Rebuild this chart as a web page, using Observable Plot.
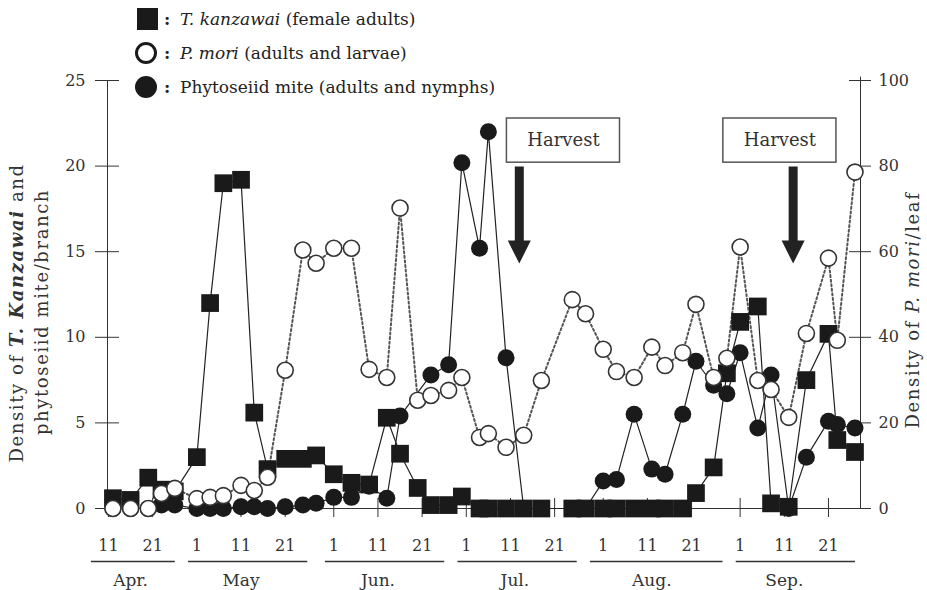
<!DOCTYPE html>
<html>
<head>
<meta charset="utf-8">
<script src="https://cdn.jsdelivr.net/npm/d3@7"></script>
<script src="https://cdn.jsdelivr.net/npm/@observablehq/plot@0.6"></script>
<style>
  html, body { margin: 0; padding: 0; background: #fff; }
  #chart { width: 927px; height: 590px; }
</style>
</head>
<body>
<div id="chart"></div>
<script>
// ---------- data (sampling dates, month-day) ----------
const dates = ["04-12","04-16","04-20","04-23","04-26",
  "05-01","05-04","05-07","05-11","05-14","05-17","05-21","05-25","05-28",
  "06-01","06-05","06-09","06-13","06-16","06-20","06-23","06-27","06-30",
  "07-04","07-06","07-10","07-14","07-18","07-25","07-28",
  "08-01","08-04","08-08","08-12","08-15","08-19","08-22","08-26","08-29",
  "09-01","09-05","09-08","09-12","09-16","09-21","09-23","09-27"];

// T. kanzawai (female adults) per branch - left axis
const kanzawai = [0.6,0.5,1.8,1.1,1.0,
  3.0,12.0,19.0,19.2,5.6,2.3,2.9,2.9,3.1,
  2.0,1.5,1.4,5.3,3.2,1.2,0.2,0.2,0.7,
  0,0,0,0,0,0,0,
  0,0,0,0,0,0,0.9,2.4,7.9,
  10.9,11.8,0.3,0.1,7.5,10.2,4.0,3.3];

// P. mori (adults and larvae) per leaf - right axis
const mori = [0,0,0,3.5,4.7,
  2.3,2.6,3.0,5.4,4.2,7.3,32.3,60.4,57.3,
  60.8,60.8,32.5,30.6,70.2,25.3,26.4,27.6,30.6,
  16.6,17.5,14.3,17.1,29.9,48.8,45.5,
  37.2,32.0,30.6,37.7,33.4,36.4,47.7,30.6,35.1,
  61.1,29.9,27.8,21.3,40.9,58.5,39.3,78.6];

// Phytoseiid mite (adults and nymphs) per branch - left axis
const phytoseiid = [0,0,0,0.2,0.2,
  0,0,0,0.1,0.1,0,0.1,0.2,0.3,
  0.65,0.65,1.3,0.6,5.4,null,7.8,8.4,20.2,
  15.2,22.0,8.8,0,0,0,0,
  1.6,1.7,5.5,2.3,2.0,5.5,8.6,7.2,6.7,
  9.1,4.7,7.8,0,3.0,5.1,4.9,4.7];

// axis ticks
const xTickDates = ["04-11","04-21","05-01","05-11","05-21","06-01","06-11","06-21",
  "07-01","07-11","07-21","08-01","08-11","08-21","09-01","09-11","09-21"];
const leftTicks = [0,5,10,15,20,25];
const rightTicks = [0,20,40,60,80,100];

// month labels and their underlines
const monthNames = ["Apr.","May","Jun.","Jul.","Aug.","Sep."];
const monthLineStart = ["04-07","04-29","05-30","06-29","07-29","08-31"];
const monthLineEnd   = ["04-26","05-26","06-26","07-26","08-28","09-27"];
const monthLabelAt   = ["04-16","05-11","06-11","07-12","08-12","09-11"];

// harvest annotations
const harvestArrow = ["07-13","09-13"];
const harvestBox   = ["07-23","09-10"];
const harvestText  = ["Harvest","Harvest"];

// ---------- build ----------
const parse = d3.utcParse("%Y-%m-%d");
const D = s => parse("2001-" + s);
const DAY = 864e5;
const rows = dates.map((d, i) => ({date: D(d), k: kanzawai[i], m: mori[i], p: phytoseiid[i]}));
const kRows = rows.filter(r => r.k != null);
const mRows = rows.filter(r => r.m != null);
const pRows = rows.filter(r => r.p != null);
const months = monthNames.map((n, i) => ({name: n, s: D(monthLineStart[i]), e: D(monthLineEnd[i]), c: D(monthLabelAt[i])}));
const harvest = harvestArrow.map((a, i) => ({arrow: D(a), box: D(harvestBox[i]), label: harvestText[i]}));

const xStart = new Date(+D("04-11") - 0.23 * DAY);
const xEnd = new Date(+D("09-21") + 7.25 * DAY);
const FONT = "'DejaVu Serif', 'Liberation Serif', serif";
const INK = "#222";

const arrowSymbol = {
  draw(ctx) {
    ctx.moveTo(-4.5, -48.5); ctx.lineTo(4.5, -48.5); ctx.lineTo(4.5, 25.5);
    ctx.lineTo(11.5, 25.5); ctx.lineTo(0, 48.5); ctx.lineTo(-11.5, 25.5);
    ctx.lineTo(-4.5, 25.5); ctx.closePath();
  }
};

const plot = Plot.plot({
  width: 927, height: 590,
  marginLeft: 107, marginRight: 67, marginTop: 80, marginBottom: 82,
  style: {fontFamily: FONT, fontSize: "16px", color: "#333", background: "#fff", overflow: "visible"},
  x: {type: "utc", domain: [xStart, xEnd], label: null},
  y: {domain: [0, 25], label: null},
  marks: [
    // frame lines
    Plot.ruleX([xStart], {y1: () => 0, y2: () => 25, stroke: "#333"}),
    Plot.ruleX([xEnd], {y1: () => 0, y2: () => 25.2, stroke: "#333"}),
    Plot.ruleY([0], {stroke: "#333"}),
    // left axis
    Plot.axisY(leftTicks, {anchor: "left", tickSize: 24, dx: 12, tickPadding: 10, label: null, fontSize: 16, stroke: "#333", fill: "#333"}),
    // right axis (P. mori)
    Plot.axisY(rightTicks.map(v => v / 4), {anchor: "right", tickSize: 22, dx: -12, tickPadding: 8, label: null, fontSize: 16, tickFormat: d => d * 4, stroke: "#333", fill: "#333"}),
    // x ticks
    Plot.axisX(xTickDates.map(D), {anchor: "bottom", tickSize: 19, dy: -10, fill: "none", label: null, stroke: "#333"}),
    Plot.axisX(xTickDates.map(D), {anchor: "bottom", tickSize: 0, tickPadding: 31, label: null, fontSize: 16, tickFormat: d3.utcFormat("%-d"), fill: "#333"}),
    // month underlines and names
    Plot.link(months, {x1: "s", x2: "e", y1: () => 0, y2: () => 0, dy: 53, stroke: "#333", strokeWidth: 1.5}),
    Plot.text(months, {x: "c", y: () => 0, text: "name", dy: 72, fontSize: 17, fill: "#333"}),
    // harvest boxes and arrows
    Plot.rect(harvest, {x1: d => new Date(+d.box - 12.8 * DAY), x2: d => new Date(+d.box + 12.8 * DAY), y1: () => 20.2, y2: () => 22.78, fill: "#fff", stroke: "#555", strokeWidth: 1.5}),
    Plot.text(harvest, {x: "box", y: () => 21.5, text: "label", fontSize: 18, fill: "#333"}),
    Plot.dot(harvest, {x: "arrow", y: () => 17.14, symbol: arrowSymbol, fill: INK, stroke: "none"}),
    // series lines
    Plot.line(mRows, {x: "date", y: d => d.m / 4, stroke: "#555", strokeWidth: 2, strokeDasharray: "2,2.6"}),
    Plot.line(kRows, {x: "date", y: "k", stroke: INK, strokeWidth: 1.2}),
    Plot.line(pRows, {x: "date", y: "p", stroke: INK, strokeWidth: 1.2}),
    // markers
    Plot.dot(kRows, {x: "date", y: "k", symbol: "square", r: 10, fill: "#1a1a1a", stroke: "none"}),
    Plot.dot(pRows, {x: "date", y: "p", symbol: "circle", r: 8.5, fill: "#1a1a1a", stroke: "none"}),
    Plot.dot(mRows, {x: "date", y: d => d.m / 4, symbol: "circle", r: 8, fill: "#fff", stroke: "#333", strokeWidth: 1.6})
  ]
});

document.getElementById("chart").appendChild(plot);

// ---------- legend and axis titles ----------
const svg = d3.select(plot);
const lg = svg.append("g").attr("font-family", FONT).attr("font-size", 17).attr("fill", "#222").attr("text-anchor", "start");
lg.append("rect").attr("x", 137).attr("y", 8).attr("width", 21).attr("height", 22).attr("fill", "#1a1a1a");
lg.append("circle").attr("cx", 146).attr("cy", 53).attr("r", 9.5).attr("fill", "#fff").attr("stroke", "#1a1a1a").attr("stroke-width", 3);
lg.append("circle").attr("cx", 146).attr("cy", 87).attr("r", 11).attr("fill", "#1a1a1a");
const legendRows = [
  {y: 25, italic: "T. kanzawai", rest: " (female adults)"},
  {y: 59, italic: "P. mori", rest: " (adults and larvae)"},
  {y: 93, italic: "", rest: "Phytoseiid mite (adults and nymphs)"}
];
legendRows.forEach(r => {
  lg.append("text").attr("x", 164).attr("y", r.y).attr("font-weight", "bold").text(":");
  const t = lg.append("text").attr("x", 180).attr("y", r.y);
  if (r.italic) t.append("tspan").attr("font-style", "italic").text(r.italic);
  t.append("tspan").text(r.rest);
});

const tg = svg.append("g").attr("font-family", FONT).attr("font-size", 18).attr("fill", "#333")
  .attr("text-anchor", "middle").attr("letter-spacing", "1.6px");
const l1 = tg.append("text").attr("transform", "translate(23,313) rotate(-90)");
l1.append("tspan").text("Density of ");
l1.append("tspan").attr("font-style", "italic").attr("font-weight", "bold").text("T. Kanzawai");
l1.append("tspan").text(" and");
tg.append("text").attr("transform", "translate(48,312) rotate(-90)").text("phytoseiid mite/branch");
const r1 = tg.append("text").attr("transform", "translate(919,310) rotate(-90)");
r1.append("tspan").text("Density of ");
r1.append("tspan").attr("font-style", "italic").text("P. mori");
r1.append("tspan").text("/leaf");
</script>
</body>
</html>
